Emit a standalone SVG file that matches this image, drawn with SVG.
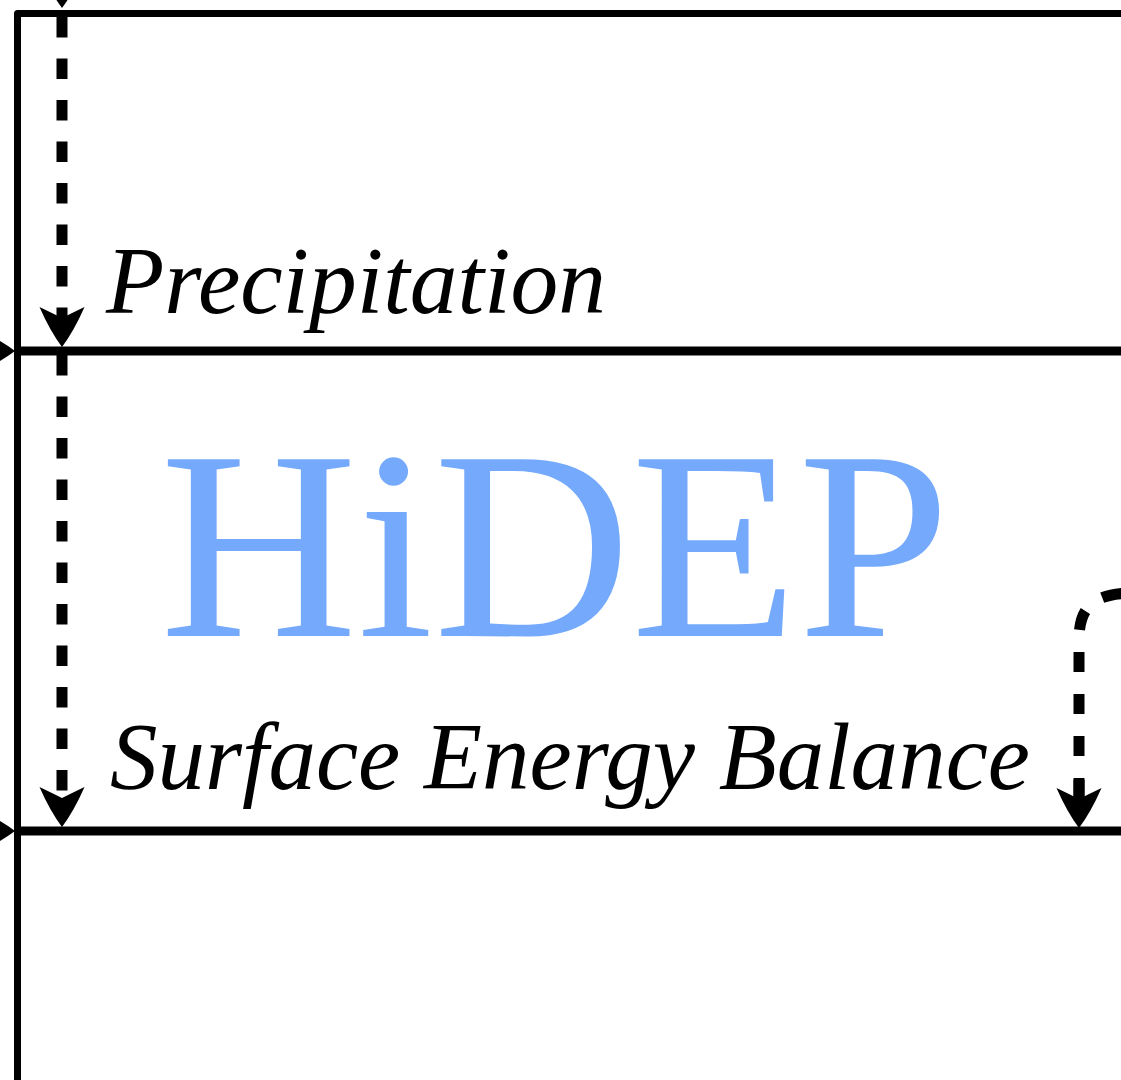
<svg xmlns="http://www.w3.org/2000/svg" width="1121" height="1080" viewBox="0 0 1121 1080">
  <style>
    .frame { fill: none; stroke: #000; stroke-width: 7; stroke-linejoin: round; }
    .layer { fill: none; stroke: #000; stroke-width: 9; }
    .flux { fill: none; stroke: #000; stroke-width: 11; stroke-dasharray: 20.5 21; }
    .shaft { fill: none; stroke: #000; stroke-width: 11; }
    .label { font-family: "Liberation Serif", "DejaVu Serif", serif; font-style: italic; font-size: 95px; fill: #000; }
    .title { font-family: "Liberation Serif", "DejaVu Serif", serif; font-size: 270px; fill: #74A9FC; }
  </style>
  <defs>
    <path id="ah" d="M 0 1 Q -12 -15 -22.5 -39 Q -10 -33 0 -28 Q 10 -33 22.5 -39 Q 12 -15 0 1 Z" fill="#000"/>
  </defs>

  <g id="frame">
    <path class="frame" d="M 17.5 1090 L 17.5 13.5 L 1130 13.5"/>
  </g>

  <g id="layer-boundaries">
    <path class="layer" d="M 17.5 351 L 1130 351"/>
    <path class="layer" d="M 17.5 831 L 1130 831"/>
  </g>

  <g id="title">
    <text class="title" x="160" y="636" textLength="790" lengthAdjust="spacingAndGlyphs">HiDEP</text>
  </g>

  <g id="precipitation">
    <text class="label" x="106" y="313" textLength="500" lengthAdjust="spacingAndGlyphs">Precipitation</text>
  </g>

  <g id="surface-energy-balance">
    <text class="label" x="110" y="789" textLength="920" lengthAdjust="spacingAndGlyphs">Surface Energy Balance</text>
  </g>

  <g id="connectors">
    <use href="#ah" transform="translate(62 7)"/>
    <path class="flux" d="M 62 17 L 62 330"/>
    <use href="#ah" transform="translate(62 346)"/>
    <path class="flux" d="M 62 355 L 62 810"/>
    <use href="#ah" transform="translate(62 826)"/>
    <use href="#ah" transform="translate(14 351) rotate(-90)"/>
    <use href="#ah" transform="translate(14 831) rotate(-90)"/>
    <path class="flux" style="stroke-dasharray: 20 22" d="M 1079 798 L 1079 640 C 1079 606 1094 593 1135 593"/>
    <path class="shaft" d="M 1079 780 L 1079 810"/>
    <use href="#ah" transform="translate(1079 827)"/>
  </g>
</svg>
